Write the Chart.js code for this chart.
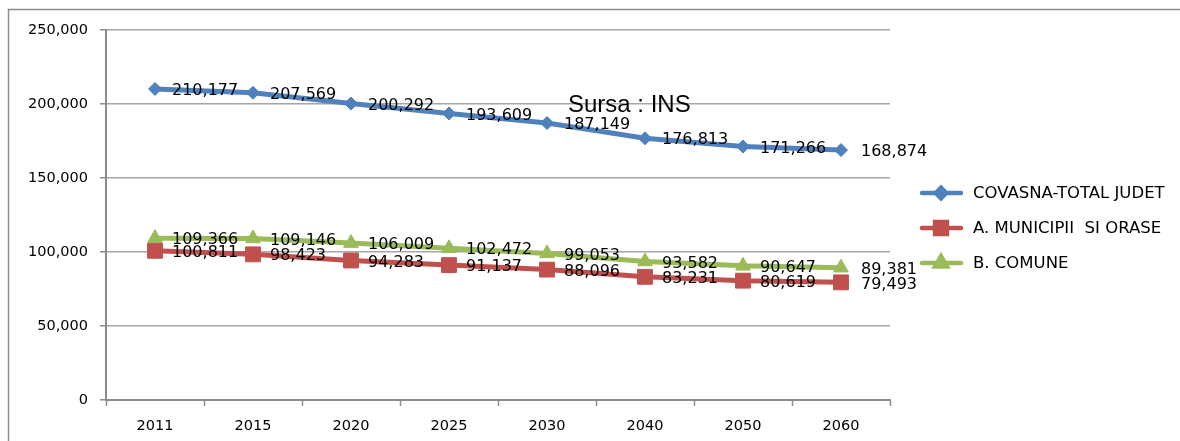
<!DOCTYPE html>
<html lang="ro">
<head>
  <meta charset="UTF-8">
  <script src="https://cdn.jsdelivr.net/npm/chart.js@4.4.0/dist/chart.umd.min.js"></script>
  <title>Covasna</title>
</head>
<style>
*{
    margin: 0px;
    padding: 0px;
    box-sizing: border-box;
}
html, body{
    background: white;
    overflow: hidden;
}
#wrap{
    width: 1180px;
    height: 441px;
}
#chart{
    display: block;
}
</style>
<body>
  <div id="wrap">
    <canvas id="chart"></canvas>
  </div>
  <script>

// data
const years = ["2011", "2015", "2020", "2025", "2030", "2040", "2050", "2060"];
const totalJudet = [210177, 207569, 200292, 193609, 187149, 176813, 171266, 168874];
const municipii = [100811, 98423, 94283, 91137, 88096, 83231, 80619, 79493];
const comune = [109366, 109146, 106009, 102472, 99053, 93582, 90647, 89381];
const seriesNames = ["COVASNA-TOTAL JUDET", "A. MUNICIPII  SI ORASE", "B. COMUNE"];
const yTicks = [0, 50000, 100000, 150000, 200000, 250000];
const sourceNote = "Sursa : INS";

const fmt = v => v.toLocaleString("en-US");

// frame: only top and left edges show, the rest is cut off
const framePlugin = {
  id: "frame",
  beforeDraw(chart) {
    const ctx = chart.ctx;
    ctx.save();
    ctx.fillStyle = "white";
    ctx.fillRect(0, 0, 1180, 441);
    ctx.strokeStyle = "#8c8c8c";
    ctx.lineWidth = 1.5;
    ctx.beginPath();
    ctx.moveTo(8.5, 441);
    ctx.lineTo(8.5, 9.5);
    ctx.lineTo(1180, 9.5);
    ctx.stroke();
    ctx.restore();
  }
};

// value labels next to each point, legend and source note
const labelPlugin = {
  id: "labels",
  afterDatasetsDraw(chart) {
    const ctx = chart.ctx;
    ctx.save();
    ctx.font = "16px 'DejaVu Sans'";
    ctx.fillStyle = "#000";
    ctx.textAlign = "left";
    ctx.textBaseline = "middle";
    chart.data.datasets.forEach((ds, di) => {
      const meta = chart.getDatasetMeta(di);
      meta.data.forEach((pt, i) => {
        const dx = i === meta.data.length - 1 ? 20 : 17;
        ctx.fillText(fmt(ds.data[i]), pt.x + dx, pt.y + 2);
      });
    });

    // legend
    const ly = [193, 228, 263];
    chart.data.datasets.forEach((ds, di) => {
      const y = ly[di];
      ctx.strokeStyle = ds.borderColor;
      ctx.lineWidth = 4.5;
      ctx.lineCap = "round";
      ctx.beginPath();
      ctx.moveTo(922, y);
      ctx.lineTo(961, y);
      ctx.stroke();
      Chart.helpers.drawPoint(ctx, {
        pointStyle: ds.pointStyle,
        radius: ds.pointRadius * 0.8,
        borderWidth: 1
      }, 941, y);
      ctx.fillStyle = ds.borderColor;
      ctx.fill();
      ctx.fillStyle = "#000";
      ctx.font = "16.5px 'DejaVu Sans'";
      ctx.fillText(ds.label, 973, y + 1);
    });

    ctx.font = "24px 'Liberation Sans'";
    ctx.textBaseline = "alphabetic";
    ctx.fillText(sourceNote, 568, 112);
    ctx.restore();
  }
};

function mkSet(label, data, color, style, r) {
  return {
    label: label,
    data: data,
    borderColor: color,
    backgroundColor: color,
    pointBackgroundColor: color,
    pointBorderColor: color,
    pointStyle: style,
    pointRadius: r,
    pointBorderWidth: 1,
    borderWidth: 5,
    tension: 0
  };
}

const config = {
  type: "line",
  data: {
    labels: years,
    datasets: [
      mkSet(seriesNames[0], totalJudet, "#4f81bd", "rectRot", 6.5),
      mkSet(seriesNames[1], municipii, "#c0504d", "rect", 10.5),
      mkSet(seriesNames[2], comune, "#9bbb59", "triangle", 8.5)
    ]
  },
  options: {
    responsive: false,
    animation: false,
    devicePixelRatio: 1,
    layout: { padding: { left: 0, top: 30, right: 290, bottom: 0 } },
    plugins: {
      legend: { display: false },
      tooltip: { enabled: false }
    },
    scales: {
      x: {
        offset: true,
        grid: {
          offset: true,
          drawOnChartArea: false,
          drawTicks: true,
          tickLength: 6,
          tickColor: "#8c8c8c",
          tickWidth: 1.5
        },
        border: { color: "#8c8c8c", width: 2 },
        ticks: {
          color: "#000",
          padding: 12,
          font: { family: "DejaVu Sans", size: 14.5 }
        },
        afterFit(s) { s.height = 41; }
      },
      y: {
        min: 0,
        max: 250000,
        afterBuildTicks(s) { s.ticks = yTicks.map(v => ({ value: v })); },
        grid: {
          color: "#a6a6a6",
          lineWidth: 1.5,
          tickLength: 6,
          tickColor: "#8c8c8c"
        },
        border: { color: "#8c8c8c", width: 2 },
        ticks: {
          color: "#000",
          padding: 12,
          font: { family: "DejaVu Sans", size: 14.5 },
          callback: v => fmt(v)
        },
        afterFit(s) { s.width = 106; }
      }
    }
  },
  plugins: [framePlugin, labelPlugin]
};

const cv = document.getElementById("chart");
cv.width = 1180;
cv.height = 441;
const myChart = new Chart(cv, config);
  </script>
</body>
</html>
